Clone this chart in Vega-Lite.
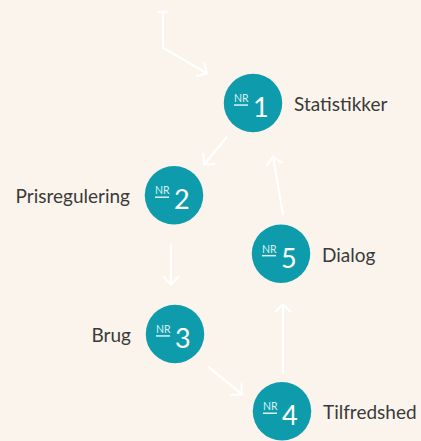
{
  "$schema": "https://vega.github.io/schema/vega-lite/v6.json",
  "width": 421,
  "height": 441,
  "autosize": {"type": "fit", "contains": "padding"},
  "padding": 0,
  "background": "#faf4ec",
  "config": {"view": {"stroke": null}, "axis": {"disable": true}},
  "datasets": {
    "nodes": [
      {"n": "1", "label": "Statistikker", "cx": 253, "cy": 104, "side": "right"},
      {"n": "2", "label": "Prisregulering", "cx": 174, "cy": 197, "side": "left"},
      {"n": "3", "label": "Brug", "cx": 175, "cy": 337, "side": "left"},
      {"n": "4", "label": "Tilfredshed", "cx": 282, "cy": 415, "side": "right"},
      {"n": "5", "label": "Dialog", "cx": 281, "cy": 256, "side": "right"}
    ],
    "segments": [
      {"x": 158, "y": 12, "x2": 168, "y2": 12},
      {"x": 163, "y": 12, "x2": 163, "y2": 48},
      {"x": 163, "y": 48, "x2": 207, "y2": 74},
      {"x": 227, "y": 138, "x2": 204, "y2": 166},
      {"x": 171, "y": 247, "x2": 171, "y2": 287},
      {"x": 208, "y": 370, "x2": 242, "y2": 398},
      {"x": 283, "y": 377, "x2": 283, "y2": 307},
      {"x": 283, "y": 217, "x2": 273, "y2": 158}
    ],
    "heads": [
      {"x": 207, "y": 74, "angle": 30},
      {"x": 204, "y": 166, "angle": 132},
      {"x": 171, "y": 287, "angle": 90},
      {"x": 242, "y": 398, "angle": 42},
      {"x": 283, "y": 307, "angle": 270},
      {"x": 273, "y": 158, "angle": 260}
    ]
  },
  "layer": [
    {
      "data": {"name": "segments"},
      "mark": {"type": "rule", "color": "#ffffff", "strokeWidth": 2},
      "encoding": {
        "x": {"field": "x", "type": "quantitative", "scale": {"domain": [0, 421], "nice": false, "zero": false}},
        "y": {"field": "y", "type": "quantitative", "scale": {"domain": [0, 441], "reverse": true, "nice": false, "zero": false}},
        "x2": {"field": "x2"},
        "y2": {"field": "y2"}
      }
    },
    {
      "data": {"name": "heads"},
      "mark": {"type": "point", "shape": "M-1,-1L0,0L-1,1", "filled": false, "stroke": "#ffffff", "strokeWidth": 2, "size": 256, "opacity": 1, "strokeJoin": "miter"},
      "encoding": {
        "x": {"field": "x", "type": "quantitative"},
        "y": {"field": "y", "type": "quantitative"},
        "angle": {"field": "angle", "type": "quantitative", "scale": null}
      }
    },
    {
      "data": {"name": "nodes"},
      "mark": {"type": "circle", "size": 3420, "color": "#0e9cac", "opacity": 1},
      "encoding": {
        "x": {"field": "cx", "type": "quantitative"},
        "y": {"field": "cy", "type": "quantitative"}
      }
    },
    {
      "data": {"name": "nodes"},
      "mark": {"type": "text", "align": "left", "baseline": "alphabetic", "dx": -19, "dy": -1, "font": "Lato", "fontSize": 10.5, "color": "#d8f1f3"},
      "encoding": {
        "x": {"field": "cx", "type": "quantitative"},
        "y": {"field": "cy", "type": "quantitative"},
        "text": {"value": "NR"}
      }
    },
    {
      "data": {"name": "nodes"},
      "mark": {"type": "rule", "color": "#d8f1f3", "strokeWidth": 1.5, "xOffset": -19, "x2Offset": -5, "yOffset": 2},
      "encoding": {
        "x": {"field": "cx", "type": "quantitative"},
        "x2": {"field": "cx"},
        "y": {"field": "cy", "type": "quantitative"}
      }
    },
    {
      "data": {"name": "nodes"},
      "mark": {"type": "text", "align": "left", "baseline": "alphabetic", "dx": 0, "dy": 14, "font": "Lato", "fontSize": 27, "fontWeight": "normal", "color": "#ffffff"},
      "encoding": {
        "x": {"field": "cx", "type": "quantitative"},
        "y": {"field": "cy", "type": "quantitative"},
        "text": {"field": "n"}
      }
    },
    {
      "data": {"name": "nodes"},
      "transform": [{"filter": "datum.side === 'right'"}],
      "mark": {"type": "text", "align": "left", "baseline": "alphabetic", "dx": 41, "dy": 8, "font": "Lato", "fontSize": 19, "color": "#3a3a3a"},
      "encoding": {
        "x": {"field": "cx", "type": "quantitative"},
        "y": {"field": "cy", "type": "quantitative"},
        "text": {"field": "label"}
      }
    },
    {
      "data": {"name": "nodes"},
      "transform": [{"filter": "datum.side === 'left'"}],
      "mark": {"type": "text", "align": "right", "baseline": "alphabetic", "dx": -44, "dy": 8, "font": "Lato", "fontSize": 19, "color": "#3a3a3a"},
      "encoding": {
        "x": {"field": "cx", "type": "quantitative"},
        "y": {"field": "cy", "type": "quantitative"},
        "text": {"field": "label"}
      }
    }
  ]
}
